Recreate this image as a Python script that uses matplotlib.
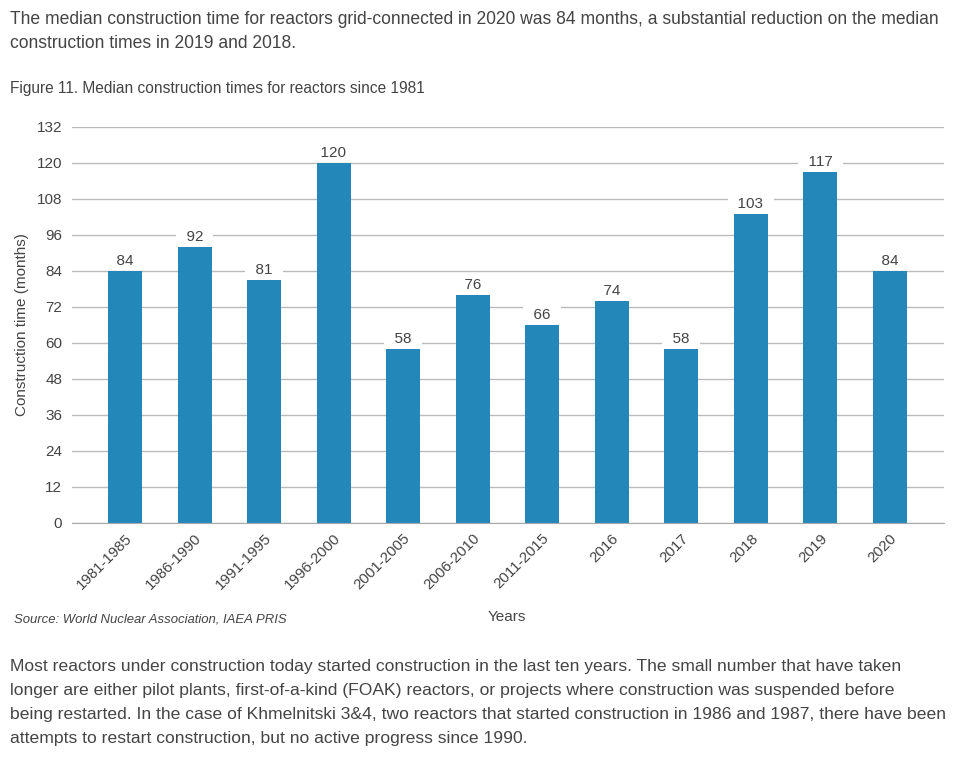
import matplotlib
matplotlib.use("Agg")
import matplotlib.pyplot as plt

categories = ["1981-1985", "1986-1990", "1991-1995", "1996-2000", "2001-2005",
              "2006-2010", "2011-2015", "2016", "2017", "2018", "2019", "2020"]
values = [84, 92, 81, 120, 58, 76, 66, 74, 58, 103, 117, 84]
yticks = list(range(0, 133, 12))

plt.rcParams['font.family'] = ['Liberation Sans', 'DejaVu Sans']
TXT = '#444444'
BAR = '#2487b9'

fig = plt.figure(figsize=(9.66, 7.75), dpi=100)
ax = fig.add_axes([72/966, 1-523/775, (944-72)/966, (523-127)/775])

x = list(range(len(categories)))
ax.bar(x, values, width=0.49, color=BAR, zorder=2)
ax.set_ylim(0, 132)
ax.set_xlim(-0.763, 11.78)
ax.set_yticks(yticks)
ax.set_yticklabels([str(t) for t in yticks], fontsize=11, color=TXT)
ax.grid(axis='y', color='#bbbbbb', linewidth=1, zorder=0)
ax.set_axisbelow(True)
for s in ['top', 'right', 'left']:
    ax.spines[s].set_visible(False)
ax.spines['bottom'].set_color('#aaaaaa')
ax.tick_params(axis='both', length=0, pad=7)
ax.set_xticks(x)
ax.set_xticklabels(categories, rotation=45, ha='right', rotation_mode='anchor',
                   fontsize=10.8, color=TXT)
ax.tick_params(axis='x', pad=6)

for xi, v in zip(x, values):
    ax.annotate(f"  {v}  ", (xi, v), xytext=(0, 2.2), textcoords='offset points',
                ha='center', va='bottom', fontsize=11, color=TXT, zorder=3,
                bbox=dict(boxstyle='square,pad=0.12', fc='white', ec='none'))

ax.set_ylabel('Construction time (months)', fontsize=11, color=TXT)
ax.yaxis.set_label_coords(-(72-29)/872, 0.5)

fig.text(507/966, 1-617/775, 'Years', ha='center', va='center', fontsize=11, color=TXT)
fig.text(14/966, 1-619/775, 'Source: World Nuclear Association, IAEA PRIS',
         ha='left', va='center', fontsize=9.45, style='italic', color=TXT)

fig.text(10/966, 1-20/775,
         'The median construction time for reactors grid-connected in 2020 was 84 months, a substantial reduction on the median',
         ha='left', va='center', fontsize=12.65, color=TXT)
fig.text(10/966, 1-44/775, 'construction times in 2019 and 2018.',
         ha='left', va='center', fontsize=12.65, color=TXT)
fig.text(10/966, 1-88/775, 'Figure 11. Median construction times for reactors since 1981',
         ha='left', va='center', fontsize=11.2, color=TXT)

bottom_lines = [
    'Most reactors under construction today started construction in the last ten years. The small number that have taken',
    'longer are either pilot plants, first-of-a-kind (FOAK) reactors, or projects where construction was suspended before',
    'being restarted. In the case of Khmelnitski 3&4, two reactors that started construction in 1986 and 1987, there have been',
    'attempts to restart construction, but no active progress since 1990.',
]
for i, line in enumerate(bottom_lines):
    fig.text(10/966, 1-(667+24*i)/775, line, ha='left', va='center', fontsize=12.6, color=TXT)

fig.savefig('out.png', dpi=100)
